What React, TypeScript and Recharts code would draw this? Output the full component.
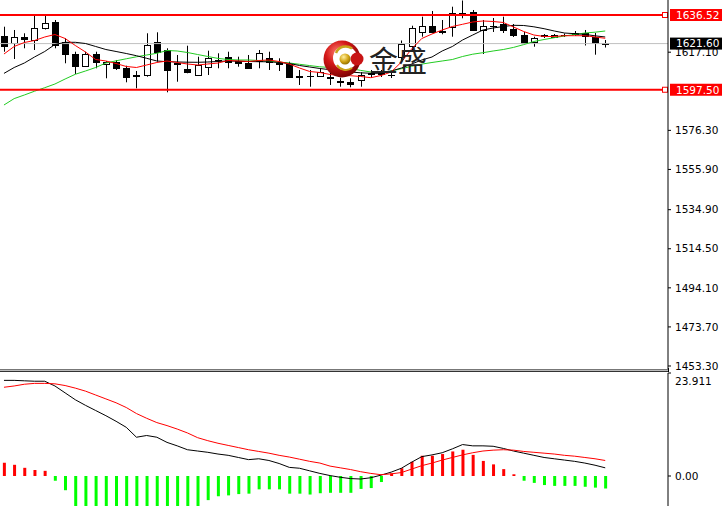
import { ComposedChart, Bar, Line, XAxis, YAxis, ReferenceLine, Cell } from 'recharts'

// candles, oldest first
const opens = [1625.71, 1621.75, 1625.19, 1623.47, 1629.58, 1632.71, 1622.58, 1616.16, 1609.9, 1616.01, 1610.79, 1612.14, 1609.01, 1604.94, 1605.2, 1622.58, 1618.25, 1611.46, 1608.18, 1605.2, 1609.53, 1612.87, 1614.75, 1612.51, 1611.31, 1612.51, 1614.23, 1611.2, 1610.79, 1604.42, 1604.57, 1604.83, 1603.95, 1601.81, 1601.7, 1602.59, 1605.88, 1605.98, 1605.2, 1614.6, 1620.34, 1627.8, 1630.93, 1627.91, 1630.26, 1637.3, 1638.09, 1628.69, 1630.78, 1631.67, 1629.37, 1625.82, 1622.43, 1625.3, 1625.19, 1625.82, 1626.81, 1627.28, 1625.19, 1621.75]
const highs = [1630.41, 1628.69, 1626.97, 1636.0, 1636.0, 1633.91, 1624.36, 1617.36, 1617.36, 1617.36, 1612.51, 1613.03, 1610.05, 1607.29, 1626.97, 1627.49, 1619.14, 1615.64, 1620.49, 1614.75, 1617.88, 1616.53, 1617.36, 1614.75, 1615.64, 1618.25, 1617.36, 1613.92, 1612.14, 1607.81, 1607.81, 1608.7, 1606.24, 1603.79, 1603.48, 1606.61, 1607.81, 1607.81, 1607.29, 1623.21, 1630.93, 1635.63, 1638.61, 1633.91, 1640.85, 1644.09, 1639.13, 1633.91, 1634.95, 1635.63, 1631.82, 1627.65, 1625.19, 1626.6, 1626.6, 1626.86, 1628.17, 1628.69, 1627.12, 1623.47]
const lows = [1617.36, 1613.55, 1619.14, 1618.25, 1628.95, 1619.14, 1611.31, 1605.72, 1609.53, 1608.7, 1603.48, 1607.81, 1601.39, 1598.26, 1604.31, 1612.14, 1596.17, 1601.7, 1606.09, 1604.68, 1605.2, 1608.7, 1608.7, 1609.53, 1608.7, 1608.7, 1607.81, 1607.29, 1603.79, 1599.98, 1599.09, 1604.31, 1599.98, 1599.09, 1598.78, 1599.09, 1603.63, 1604.16, 1603.63, 1613.03, 1617.21, 1625.19, 1626.97, 1626.45, 1625.19, 1634.8, 1628.17, 1616.16, 1627.65, 1627.12, 1625.04, 1621.38, 1619.97, 1624.51, 1624.77, 1625.04, 1625.56, 1620.6, 1615.8, 1619.55]
const closes = [1620.49, 1624.88, 1623.84, 1629.89, 1632.19, 1620.86, 1616.01, 1609.9, 1616.01, 1611.83, 1612.14, 1609.01, 1604.31, 1604.52, 1620.86, 1617.36, 1607.81, 1611.15, 1606.92, 1610.42, 1613.92, 1613.19, 1611.83, 1611.31, 1609.01, 1616.53, 1612.14, 1611.36, 1604.31, 1604.21, 1604.78, 1606.92, 1603.74, 1601.6, 1600.35, 1605.2, 1606.09, 1606.19, 1605.46, 1621.38, 1629.73, 1630.93, 1627.8, 1627.7, 1637.82, 1637.51, 1628.69, 1630.78, 1630.99, 1628.69, 1625.92, 1621.75, 1624.67, 1626.18, 1626.34, 1625.98, 1627.02, 1625.56, 1621.9, 1621.6]

// moving averages
const maFast = [1616.16, 1620.08, 1622.17, 1623.21, 1625.04, 1626.34, 1624.25, 1620.6, 1617.21, 1613.29, 1612.51, 1611.2, 1609.64, 1609.12, 1610.42, 1611.73, 1612.51, 1611.73, 1610.94, 1610.42, 1610.94, 1611.46, 1612.77, 1612.51, 1612.25, 1612.77, 1613.03, 1612.25, 1610.94, 1608.85, 1607.03, 1606.51, 1605.46, 1604.94, 1604.83, 1604.42, 1603.79, 1604.94, 1606.77, 1611.99, 1618.77, 1624.25, 1626.6, 1628.69, 1630.52, 1631.67, 1632.87, 1633.39, 1633.13, 1632.61, 1630.26, 1627.91, 1626.08, 1625.3, 1625.3, 1625.71, 1625.71, 1625.71, 1625.04, 1624.36]
const maMid = [1606.04, 1609.11, 1611.46, 1614.6, 1617.47, 1621.12, 1622.27, 1622.27, 1621.64, 1620.08, 1618.51, 1617.47, 1616.42, 1615.27, 1613.92, 1612.51, 1612.14, 1611.99, 1611.88, 1611.83, 1611.99, 1612.25, 1612.51, 1612.4, 1612.25, 1612.14, 1612.09, 1611.73, 1611.2, 1610.16, 1609.38, 1608.59, 1607.97, 1607.29, 1606.77, 1606.35, 1606.09, 1606.09, 1607.29, 1608.85, 1610.94, 1613.03, 1614.6, 1617.73, 1620.08, 1623.47, 1626.08, 1628.69, 1629.73, 1630.52, 1631.14, 1631.04, 1630.36, 1629.37, 1628.17, 1627.12, 1626.76, 1626.39, 1625.66, 1625.04]
const maSlow = [1589.54, 1592.88, 1594.76, 1596.74, 1598.57, 1600.5, 1603.11, 1605.57, 1607.29, 1609.12, 1611.46, 1612.61, 1613.66, 1614.7, 1615.64, 1616.53, 1617.99, 1617.73, 1616.95, 1615.9, 1614.86, 1613.86, 1613.29, 1613.03, 1613.03, 1612.77, 1612.4, 1611.99, 1611.46, 1610.79, 1610.11, 1609.48, 1609.12, 1608.85, 1608.59, 1607.6, 1606.77, 1606.45, 1607.29, 1608.49, 1609.74, 1610.89, 1611.73, 1612.51, 1613.29, 1614.86, 1616.06, 1616.84, 1617.73, 1618.51, 1619.61, 1621.07, 1622.69, 1623.73, 1624.67, 1625.56, 1626.34, 1627.12, 1627.54, 1628.17]

// MACD panel
const dif = [22.2, 22.2, 22.1, 22.0, 22.0, 20.9, 19.3, 17.7, 16.4, 15.2, 14.0, 12.7, 11.3, 9.0, 9.4, 9.0, 7.8, 7.0, 6.1, 5.8, 5.5, 5.1, 4.8, 4.3, 3.8, 4.0, 3.6, 2.9, 2.0, 1.8, 1.2, 0.6, 0.1, -0.3, -0.6, -0.7, -0.4, 0.2, 0.9, 1.8, 3.2, 4.5, 4.9, 5.4, 6.3, 7.3, 7.0, 7.0, 6.9, 6.4, 5.8, 5.3, 4.8, 4.3, 4.0, 3.7, 3.4, 3.0, 2.5, 1.9]
const dea = [20.6, 20.9, 21.3, 21.5, 21.5, 21.4, 21.0, 20.4, 19.7, 18.8, 17.9, 17.0, 15.9, 14.5, 13.4, 12.4, 11.7, 10.9, 10.0, 8.9, 8.2, 7.6, 7.1, 6.6, 6.1, 5.7, 5.3, 4.8, 4.4, 3.9, 3.4, 3.0, 2.3, 1.9, 1.5, 1.0, 0.6, 0.3, 0.5, 0.8, 1.6, 2.4, 3.0, 3.7, 4.3, 4.9, 5.4, 5.8, 6.0, 6.1, 6.0, 5.7, 5.5, 5.3, 5.1, 4.8, 4.6, 4.3, 4.0, 3.6]
const hist = [3.1, 2.6, 1.9, 1.4, 1.2, -1.1, -3.3, -8.0, -9.5, -10.5, -11.0, -11.5, -12.0, -12.5, -10.0, -9.0, -8.5, -8.0, -8.0, -7.5, -5.6, -4.7, -4.5, -4.2, -4.1, -3.1, -3.1, -3.1, -4.1, -4.1, -4.3, -4.0, -3.9, -3.9, -3.9, -3.0, -2.8, -1.4, 0.6, 1.8, 3.3, 4.7, 4.7, 5.1, 5.7, 6.1, 4.9, 3.5, 2.7, 1.6, 0.4, -1.1, -1.6, -2.1, -2.3, -2.3, -2.3, -2.5, -2.7, -2.9]

const priceTicks = [1453.3, 1473.7, 1494.1, 1514.5, 1534.9, 1555.9, 1576.3, 1617.1]
const macdTicks = [0, 23.911]
const resistance = 1636.52
const support = 1597.5
const lastPrice = 1621.6

const FONT = '"DejaVu Sans", sans-serif'
const xDomain = [-0.39, 65.16]

const candles = opens.map((open, i) => ({
  idx: i,
  open,
  high: highs[i],
  low: lows[i],
  close: closes[i],
  range: [lows[i], highs[i]],
  fast: maFast[i],
  mid: maMid[i],
  slow: maSlow[i],
}))

const macdRows = dif.map((d, i) => ({ idx: i, dif: d, dea: dea[i], hist: hist[i] }))

function Candle(props: any) {
  const { x, y, width, height, payload } = props
  if (!payload || !height) return null
  const { open, close, high, low } = payload
  const cx = Math.floor(x + width / 2) + 0.5
  const k = height / (high - low)
  const yOf = (v: number) => y + (high - v) * k
  const top = Math.round(yOf(Math.max(open, close))) + 0.5
  const bottom = Math.round(yOf(Math.min(open, close))) + 0.5
  const up = close >= open
  return (
    <g>
      <line x1={cx} x2={cx} y1={y} y2={y + height} stroke="#000" strokeWidth={1} />
      {bottom - top < 1 ? (
        <line x1={cx - 3.5} x2={cx + 3.5} y1={top} y2={top} stroke="#000" strokeWidth={1} />
      ) : (
        <rect x={cx - 3} y={top} width={6} height={bottom - top} fill={up ? '#fff' : '#000'} stroke="#000" strokeWidth={1} />
      )}
    </g>
  )
}

function PriceTag(props: any) {
  const { viewBox, price, bg } = props
  if (!viewBox) return null
  const right = viewBox.x + viewBox.width
  const cy = viewBox.y
  return (
    <g>
      <rect x={right + 2} y={cy - 6} width={54} height={12} fill={bg} />
      {bg !== '#000' && <rect x={right - 5.5} y={cy - 2.5} width={5} height={5} fill="#fff" stroke={bg} strokeWidth={1} />}
      <text x={right + 8} y={cy} dy="0.36em" fill="#fff" fontSize={10.5} fontFamily={FONT}>
        {price.toFixed(2)}
      </text>
    </g>
  )
}

function MacdTick(props: any) {
  const { x, y, payload } = props
  const isTop = payload.value > 0
  return (
    <text x={x} y={isTop ? y + 8 : y} dy="0.36em" fontSize={10.5} fontFamily={FONT} fill="#000" textAnchor="start">
      {isTop ? payload.value.toFixed(3) : payload.value.toFixed(2)}
    </text>
  )
}

export default function App() {
  return (
    <div style={{ position: 'absolute', left: 0, top: 0, width: 722, height: 506, background: '#fff', overflow: 'hidden' }}>
      <div style={{ position: 'absolute', left: 0, top: 0 }}>
        <ComposedChart width={722} height={373} data={candles} margin={{ top: 0, right: 0, bottom: 4, left: 0 }}>
          <XAxis dataKey="idx" type="number" domain={xDomain} hide allowDataOverflow />
          <YAxis
            orientation="right"
            width={54}
            domain={[1451.73, 1644.35]}
            ticks={priceTicks}
            interval={0}
            allowDataOverflow
            tickSize={3}
            tickMargin={4}
            axisLine={{ stroke: '#000' }}
            tickLine={{ stroke: '#000' }}
            tick={{ fontSize: 10.5, fill: '#000', fontFamily: FONT }}
            tickFormatter={(v: number) => v.toFixed(2)}
          />
          <ReferenceLine y={lastPrice} stroke="#c0c0c0" strokeWidth={1} label={<PriceTag price={lastPrice} bg="#000" />} />
          <Line dataKey="slow" stroke="#22cc22" strokeWidth={1} dot={false} isAnimationActive={false} />
          <Line dataKey="mid" stroke="#000" strokeWidth={1} dot={false} isAnimationActive={false} />
          <Bar dataKey="range" barSize={7} shape={(p: any) => <Candle {...p} />} isAnimationActive={false} />
          <Line dataKey="fast" stroke="#ff0000" strokeWidth={1} dot={false} isAnimationActive={false} />
          <ReferenceLine y={resistance} stroke="#ff0000" strokeWidth={2} label={<PriceTag price={resistance} bg="#ff0000" />} />
          <ReferenceLine y={support} stroke="#ff0000" strokeWidth={2} label={<PriceTag price={support} bg="#ff0000" />} />
        </ComposedChart>
      </div>

      <svg style={{ position: 'absolute', left: 0, top: 0 }} width={722} height={372}>
        <defs>
          <radialGradient id="sphere" cx="38%" cy="32%" r="72%">
            <stop offset="0%" stopColor="#ff8070" />
            <stop offset="45%" stopColor="#d41818" />
            <stop offset="100%" stopColor="#780000" />
          </radialGradient>
          <radialGradient id="goldball" cx="38%" cy="32%" r="70%">
            <stop offset="0%" stopColor="#fff0a0" />
            <stop offset="60%" stopColor="#d2a414" />
            <stop offset="100%" stopColor="#927000" />
          </radialGradient>
        </defs>
        <circle cx={342} cy={59} r={18.5} fill="url(#sphere)" />
        <circle cx={345} cy={58} r={12} fill="#fff" />
        <circle cx={357} cy={59} r={6.5} fill="#c81414" />
        <path d="M 352 48.5 A 10.5 10.5 0 0 0 336 53" stroke="#c9a21a" strokeWidth={2.5} fill="none" />
        <path d="M 352 68 A 10.5 10.5 0 0 1 337 65" stroke="#c9a21a" strokeWidth={2} fill="none" />
        <circle cx={345} cy={59} r={5.5} fill="url(#goldball)" />
        <text x={369} y={72} fontSize={29} fontFamily='"Noto Sans CJK SC", sans-serif' fill="#222">
          金盛
        </text>
        <line x1={0} x2={669} y1={369.5} y2={369.5} stroke="#777" />
        <line x1={0} x2={669} y1={370.5} y2={370.5} stroke="#bbb" />
        <line x1={0} x2={669} y1={371.5} y2={371.5} stroke="#333" />
        <line x1={668.5} x2={668.5} y1={368} y2={372} stroke="#000" />
      </svg>

      <div style={{ position: 'absolute', left: 0, top: 372 }}>
        <ComposedChart width={722} height={134} data={macdRows} margin={{ top: 1, right: 0, bottom: 0, left: 0 }}>
          <XAxis dataKey="idx" type="number" domain={xDomain} hide allowDataOverflow />
          <YAxis
            orientation="right"
            width={54}
            domain={[-6.964, 23.911]}
            ticks={macdTicks}
            interval={0}
            allowDataOverflow
            tickSize={3}
            tickMargin={4}
            axisLine={{ stroke: '#000' }}
            tickLine={{ stroke: '#000' }}
            tick={<MacdTick />}
          />
          <Bar dataKey="hist" barSize={3} isAnimationActive={false}>
            {macdRows.map((r, i) => (
              <Cell key={i} fill={r.hist >= 0 ? '#ff0000' : '#00ff00'} />
            ))}
          </Bar>
          <Line dataKey="dif" stroke="#000" strokeWidth={1} dot={false} isAnimationActive={false} />
          <Line dataKey="dea" stroke="#ff0000" strokeWidth={1} dot={false} isAnimationActive={false} />
        </ComposedChart>
      </div>
    </div>
  )
}
